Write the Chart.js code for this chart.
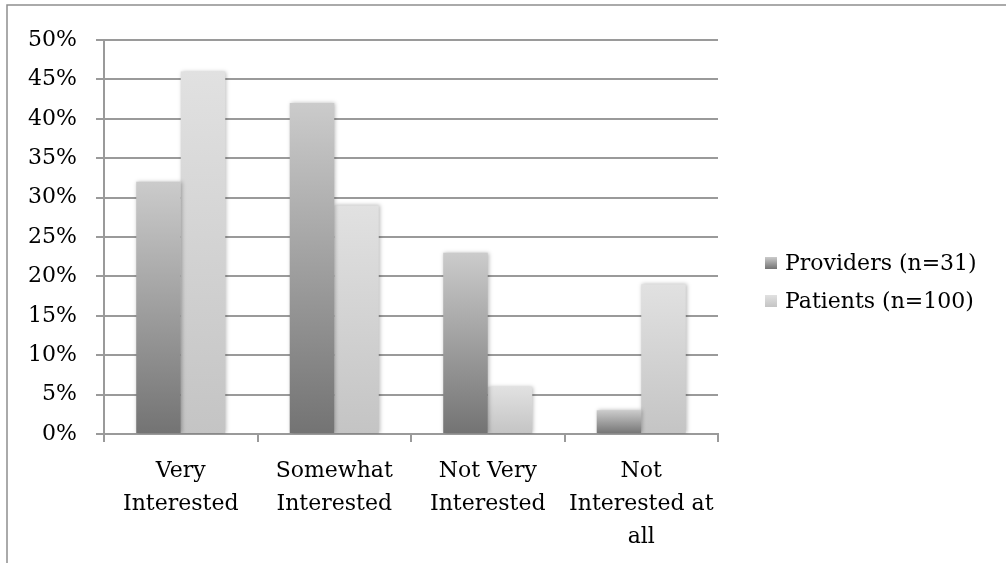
<!DOCTYPE html>
<html>
<head>
<meta charset="utf-8">
<script src="https://cdn.jsdelivr.net/npm/chart.js@4/dist/chart.umd.min.js"></script>
<style>
  html, body { margin: 0; padding: 0; background: #ffffff; }
  #wrap { width: 1008px; height: 563px; position: relative; }
</style>
</head>
<body>
<div id="wrap"><canvas id="chart" width="1008" height="563"></canvas></div>
<script>
// Interest level by respondent group (percent)
const categories = [
  ['Very', 'Interested'],
  ['Somewhat', 'Interested'],
  ['Not Very', 'Interested'],
  ['Not', 'Interested at', 'all']
];
const providers = [32, 42, 23, 3];
const patients = [46, 29, 6, 19];
const seriesNames = ['Providers (n=31)', 'Patients (n=100)'];
const yTicks = [0, 5, 10, 15, 20, 25, 30, 35, 40, 45, 50];

const FONT = { family: '"DejaVu Serif", serif', size: 22 };
const TEXT = '#000000';
const GRID = '#9a9a9a';

// Vertical shading of each bar, dark at the base, light at the top
const shades = [
  { base: '#737373', top: '#cbcbcb' },
  { base: '#c4c4c4', top: '#e1e1e1' }
];

function barFill(context) {
  const chart = context.chart;
  const shade = shades[context.datasetIndex];
  const y = chart.scales && chart.scales.y;
  if (!chart.chartArea || !y || context.type !== 'data') return shade.base;
  const y0 = y.getPixelForValue(0);
  const y1 = y.getPixelForValue(context.raw);
  if (!isFinite(y0) || !isFinite(y1) || y0 === y1) return shade.base;
  const g = chart.ctx.createLinearGradient(0, y0, 0, y1);
  g.addColorStop(0, shade.base);
  g.addColorStop(1, shade.top);
  return g;
}

function swatchFill(ctx, i, y, s) {
  const g = ctx.createLinearGradient(0, y + s, 0, y);
  g.addColorStop(0, shades[i].base);
  g.addColorStop(1, shades[i].top);
  return g;
}

// Frame around the whole chart and a soft shadow under the bars
const framePlugin = {
  id: 'frame',
  beforeDraw(chart) {
    const ctx = chart.ctx;
    ctx.save();
    ctx.fillStyle = '#ffffff';
    ctx.fillRect(0, 0, chart.width, chart.height);
    ctx.strokeStyle = '#8e8e8e';
    ctx.lineWidth = 1.5;
    ctx.beginPath();
    ctx.moveTo(7, chart.height);
    ctx.lineTo(7, 5);
    ctx.lineTo(chart.width - 2, 5);
    ctx.stroke();
    ctx.restore();
  },
  beforeDatasetsDraw(chart) {
    const ctx = chart.ctx;
    ctx.save();
    ctx.shadowColor = 'rgba(0,0,0,0.28)';
    ctx.shadowBlur = 4;
    ctx.shadowOffsetX = 1;
    ctx.shadowOffsetY = 0;
  },
  afterDatasetsDraw(chart) {
    chart.ctx.restore();
  }
};

// Legend to the right of the plot
const sideLegend = {
  id: 'sideLegend',
  afterDraw(chart) {
    const ctx = chart.ctx;
    const x = 765, s = 12;
    const rows = [263, 301];
    ctx.save();
    ctx.font = FONT.size + 'px ' + FONT.family;
    ctx.textBaseline = 'middle';
    ctx.textAlign = 'left';
    chart.data.datasets.forEach((ds, i) => {
      const cy = rows[i];
      ctx.fillStyle = swatchFill(ctx, i, cy - s / 2, s);
      ctx.fillRect(x, cy - s / 2, s, s);
      ctx.fillStyle = TEXT;
      ctx.fillText(ds.label, x + 20, cy + 1);
    });
    ctx.restore();
  }
};

new Chart(document.getElementById('chart'), {
  type: 'bar',
  data: {
    labels: categories,
    datasets: [
      { label: seriesNames[0], data: providers, backgroundColor: barFill, borderWidth: 0 },
      { label: seriesNames[1], data: patients, backgroundColor: barFill, borderWidth: 0 }
    ]
  },
  options: {
    responsive: false,
    animation: false,
    devicePixelRatio: 1,
    layout: { padding: { top: 40, right: 290, left: 0, bottom: 0 } },
    datasets: { bar: { categoryPercentage: 0.58, barPercentage: 1.0 } },
    plugins: {
      legend: { display: false },
      tooltip: { enabled: false }
    },
    scales: {
      x: {
        offset: true,
        grid: {
          offset: true,
          drawOnChartArea: false,
          drawTicks: true,
          tickLength: 8,
          color: GRID,
          lineWidth: 2
        },
        border: { display: true, color: GRID, width: 2 },
        ticks: {
          color: TEXT,
          font: { ...FONT, lineHeight: '33px' },
          padding: 13,
          maxRotation: 0,
          autoSkip: false
        },
        afterFit(scale) { scale.height = 129; }
      },
      y: {
        min: 0,
        max: 50,
        afterBuildTicks(scale) { scale.ticks = yTicks.map(v => ({ value: v })); },
        grid: {
          color: GRID,
          lineWidth: 2,
          drawTicks: true,
          tickLength: 8
        },
        border: { display: true, color: GRID, width: 2 },
        ticks: {
          color: TEXT,
          font: FONT,
          padding: 19,
          callback: v => v + '%'
        },
        afterFit(scale) { scale.width = 104; }
      }
    }
  },
  plugins: [framePlugin, sideLegend]
});
</script>
</body>
</html>
